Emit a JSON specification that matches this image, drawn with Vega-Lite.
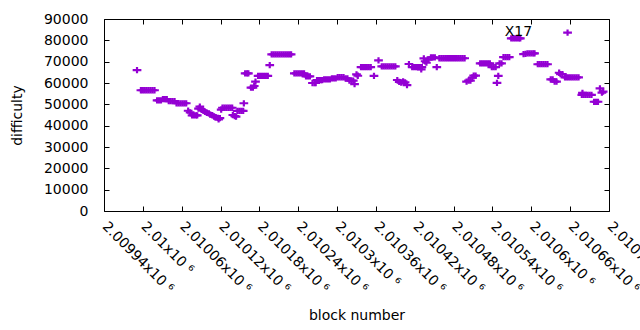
{
  "$schema": "https://vega.github.io/schema/vega-lite/v6.json",
  "autosize": {"type": "none"},
  "width": 505,
  "height": 192,
  "padding": {"left": 104, "top": 19, "right": 31, "bottom": 119},
  "background": "white",
  "datasets": {
    "pts": [
      {"b":2009991,"d":66000},
      {"b":2009997,"d":56600},{"b":2010000,"d":56600},{"b":2010003,"d":56600},{"b":2010006,"d":56600},{"b":2010009,"d":56600},{"b":2010012,"d":56600},{"b":2010015,"d":56600},{"b":2010018,"d":56600},
      {"b":2010022,"d":51900},{"b":2010025,"d":51900},{"b":2010028,"d":51900},
      {"b":2010031,"d":52400},{"b":2010034,"d":52400},{"b":2010037,"d":52400},
      {"b":2010040,"d":51500},{"b":2010043,"d":51500},{"b":2010046,"d":51500},{"b":2010049,"d":51500},
      {"b":2010052,"d":50500},{"b":2010055,"d":50500},{"b":2010058,"d":50500},{"b":2010061,"d":50500},{"b":2010064,"d":50500},{"b":2010067,"d":50500},
      {"b":2010070,"d":47000},{"b":2010073,"d":46200},
      {"b":2010076,"d":44800},{"b":2010079,"d":44800},{"b":2010082,"d":44800},{"b":2010084,"d":44800},
      {"b":2010086,"d":48000},{"b":2010088,"d":48900},{"b":2010090,"d":47800},{"b":2010093,"d":47200},
      {"b":2010096,"d":46500},{"b":2010099,"d":46000},{"b":2010102,"d":45800},
      {"b":2010104,"d":45200},{"b":2010107,"d":44900},
      {"b":2010110,"d":44300},{"b":2010113,"d":43900},{"b":2010116,"d":43600},{"b":2010117,"d":42900},{"b":2010119,"d":43500},
      {"b":2010121,"d":47500},
      {"b":2010123,"d":48400},{"b":2010126,"d":48400},{"b":2010129,"d":48400},{"b":2010132,"d":48400},{"b":2010135,"d":48400},{"b":2010138,"d":48400},
      {"b":2010139,"d":45000},{"b":2010142,"d":44500},{"b":2010144,"d":44200},
      {"b":2010146,"d":46900},{"b":2010149,"d":46900},{"b":2010152,"d":46900},{"b":2010155,"d":46900},
      {"b":2010156,"d":50500},
      {"b":2010158,"d":64500},{"b":2010161,"d":64500},{"b":2010163,"d":64500},
      {"b":2010167,"d":57800},{"b":2010170,"d":57800},{"b":2010172,"d":58600},{"b":2010174,"d":60600},
      {"b":2010178,"d":63300},{"b":2010181,"d":63300},{"b":2010184,"d":63300},{"b":2010187,"d":63300},{"b":2010190,"d":63300},{"b":2010193,"d":63300},
      {"b":2010196,"d":68400},
      {"b":2010199,"d":73400},{"b":2010202,"d":73400},{"b":2010205,"d":73400},{"b":2010208,"d":73400},{"b":2010211,"d":73400},{"b":2010214,"d":73400},{"b":2010217,"d":73400},{"b":2010220,"d":73400},{"b":2010223,"d":73400},{"b":2010226,"d":73400},{"b":2010229,"d":73400},
      {"b":2010234,"d":64500},{"b":2010237,"d":64500},{"b":2010240,"d":64500},{"b":2010243,"d":64500},{"b":2010246,"d":64500},{"b":2010249,"d":64500},
      {"b":2010252,"d":63100},{"b":2010255,"d":63100},{"b":2010258,"d":63100},
      {"b":2010262,"d":60000},{"b":2010265,"d":60000},{"b":2010267,"d":60000},
      {"b":2010269,"d":61400},{"b":2010272,"d":61400},{"b":2010275,"d":61400},{"b":2010277,"d":61400},
      {"b":2010280,"d":61700},{"b":2010283,"d":61700},{"b":2010286,"d":61700},{"b":2010289,"d":61700},
      {"b":2010292,"d":62200},{"b":2010295,"d":62200},{"b":2010298,"d":62200},
      {"b":2010301,"d":62700},{"b":2010304,"d":62700},{"b":2010307,"d":62700},{"b":2010310,"d":62700},
      {"b":2010313,"d":62200},{"b":2010316,"d":62200},
      {"b":2010319,"d":61100},{"b":2010322,"d":61100},{"b":2010325,"d":61100},{"b":2010327,"d":59500},
      {"b":2010330,"d":64000},{"b":2010332,"d":63400},
      {"b":2010337,"d":67400},{"b":2010340,"d":67400},{"b":2010343,"d":67400},{"b":2010346,"d":67400},{"b":2010349,"d":67400},{"b":2010352,"d":67400},
      {"b":2010357,"d":63300},
      {"b":2010364,"d":70600},
      {"b":2010369,"d":67800},{"b":2010372,"d":67800},{"b":2010375,"d":67800},{"b":2010378,"d":67800},{"b":2010381,"d":67800},{"b":2010384,"d":67800},{"b":2010387,"d":67800},{"b":2010390,"d":67800},
      {"b":2010393,"d":61400},{"b":2010396,"d":60500},{"b":2010399,"d":60200},{"b":2010402,"d":60800},{"b":2010405,"d":60300},{"b":2010408,"d":59000},
      {"b":2010411,"d":68900},
      {"b":2010416,"d":67400},{"b":2010419,"d":67400},{"b":2010422,"d":67400},{"b":2010425,"d":67400},{"b":2010428,"d":67400},{"b":2010430,"d":66400},{"b":2010431,"d":67400},
      {"b":2010434,"d":71500},{"b":2010436,"d":70200},{"b":2010438,"d":69500},{"b":2010441,"d":71000},
      {"b":2010445,"d":72000},{"b":2010448,"d":72000},{"b":2010451,"d":72000},
      {"b":2010454,"d":67400},
      {"b":2010458,"d":71600},{"b":2010461,"d":71600},{"b":2010464,"d":71600},{"b":2010467,"d":71600},{"b":2010470,"d":71600},{"b":2010473,"d":71600},{"b":2010476,"d":71600},{"b":2010479,"d":71600},{"b":2010482,"d":71600},{"b":2010485,"d":71600},{"b":2010488,"d":71600},{"b":2010491,"d":71600},{"b":2010494,"d":71600},{"b":2010497,"d":71600},
      {"b":2010500,"d":60600},{"b":2010503,"d":61100},{"b":2010506,"d":61100},{"b":2010509,"d":62500},{"b":2010511,"d":63500},{"b":2010514,"d":63500},
      {"b":2010521,"d":69200},{"b":2010524,"d":69200},{"b":2010527,"d":69200},{"b":2010530,"d":69200},{"b":2010533,"d":69200},{"b":2010536,"d":69200},
      {"b":2010539,"d":67400},{"b":2010542,"d":67400},{"b":2010545,"d":67400},
      {"b":2010547,"d":60100},{"b":2010549,"d":63300},
      {"b":2010551,"d":69200},{"b":2010554,"d":69200},
      {"b":2010557,"d":72100},{"b":2010560,"d":72100},{"b":2010563,"d":72100},{"b":2010566,"d":72100},
      {"b":2010569,"d":80900},{"b":2010572,"d":80900},{"b":2010575,"d":80900},{"b":2010578,"d":80900},{"b":2010581,"d":80900},{"b":2010583,"d":80900},
      {"b":2010588,"d":73500},{"b":2010591,"d":73700},{"b":2010594,"d":73900},{"b":2010597,"d":73900},{"b":2010600,"d":73900},{"b":2010603,"d":73900},{"b":2010605,"d":73900},
      {"b":2010610,"d":68800},{"b":2010613,"d":68800},{"b":2010616,"d":68800},{"b":2010619,"d":68800},{"b":2010622,"d":68800},{"b":2010625,"d":68800},
      {"b":2010630,"d":61700},{"b":2010633,"d":61700},{"b":2010636,"d":60600},{"b":2010639,"d":60600},
      {"b":2010643,"d":64800},{"b":2010645,"d":64200},{"b":2010648,"d":64200},
      {"b":2010652,"d":62600},{"b":2010655,"d":62600},{"b":2010658,"d":62600},{"b":2010661,"d":62600},{"b":2010664,"d":62600},{"b":2010667,"d":62600},{"b":2010670,"d":62600},{"b":2010673,"d":62600},
      {"b":2010656,"d":83600},
      {"b":2010678,"d":54400},{"b":2010679,"d":55400},{"b":2010681,"d":54400},{"b":2010684,"d":54400},{"b":2010687,"d":54400},{"b":2010690,"d":54400},{"b":2010693,"d":54400},
      {"b":2010697,"d":51200},{"b":2010700,"d":51200},{"b":2010703,"d":51200},
      {"b":2010706,"d":57500},{"b":2010709,"d":55500},{"b":2010711,"d":56000}
    ],
    "lab": [{"b": 2010580, "d": 83800, "t": "X17"}]
  },
  "layer": [
    {
      "data": {"name": "pts"},
      "mark": {"type": "point", "shape": "M-1,0H1M0,-0.72V0.72", "size": 76, "filled": false, "strokeWidth": 2.2, "color": "#9400D3", "opacity": 1, "strokeCap": "butt"},
      "encoding": {
        "x": {"field": "b", "type": "quantitative",
          "scale": {"domain": [2009940, 2010720], "nice": false, "zero": false},
          "axis": {"orient": "bottom", "title": "block number",
            "values": [2009940, 2010000, 2010060, 2010120, 2010180, 2010240, 2010300, 2010360, 2010420, 2010480, 2010540, 2010600, 2010660, 2010720],
            "labelExpr": "format(datum.value/1000000, '.6~f') + 'x10 \u2076'",
            "labelAngle": 45, "labelAlign": "left", "labelBaseline": "middle", "labelPadding": 18,
            "labelOverlap": false, "labelFlush": false, "labelBound": false,
            "tickSize": -5, "titleY": 104, "titleBaseline": "middle"}},
        "y": {"field": "d", "type": "quantitative",
          "scale": {"domain": [0, 90000], "nice": false},
          "axis": {"orient": "left", "title": "difficulty", "format": "d",
            "values": [0, 10000, 20000, 30000, 40000, 50000, 60000, 70000, 80000, 90000],
            "labelPadding": 21, "tickSize": -5, "labelOverlap": false, "labelFlush": false,
            "titleX": -87, "titleY": 96, "titleAlign": "center", "titleBaseline": "middle", "titleAngle": 270}}
      }
    },
    {
      "data": {"name": "lab"},
      "mark": {"type": "text", "font": "DejaVu Sans", "fontSize": 14, "color": "black", "align": "center", "baseline": "middle"},
      "encoding": {
        "text": {"field": "t"},
        "x": {"field": "b", "type": "quantitative",
          "axis": {"orient": "top", "labels": false, "title": null, "tickSize": -5,
            "values": [2009940, 2010000, 2010060, 2010120, 2010180, 2010240, 2010300, 2010360, 2010420, 2010480, 2010540, 2010600, 2010660, 2010720]}},
        "y": {"field": "d", "type": "quantitative",
          "axis": {"orient": "right", "labels": false, "title": null, "tickSize": -5,
            "values": [0, 10000, 20000, 30000, 40000, 50000, 60000, 70000, 80000, 90000]}}
      }
    }
  ],
  "resolve": {"axis": {"x": "independent", "y": "independent"}},
  "config": {
    "view": {"stroke": "black", "strokeWidth": 1},
    "axis": {"grid": false, "domain": false, "tickColor": "black", "tickWidth": 1,
      "labelColor": "black", "labelFont": "DejaVu Sans", "labelFontSize": 14,
      "titleColor": "black", "titleFont": "DejaVu Sans", "titleFontSize": 14, "titleFontWeight": "normal"}
  }
}
